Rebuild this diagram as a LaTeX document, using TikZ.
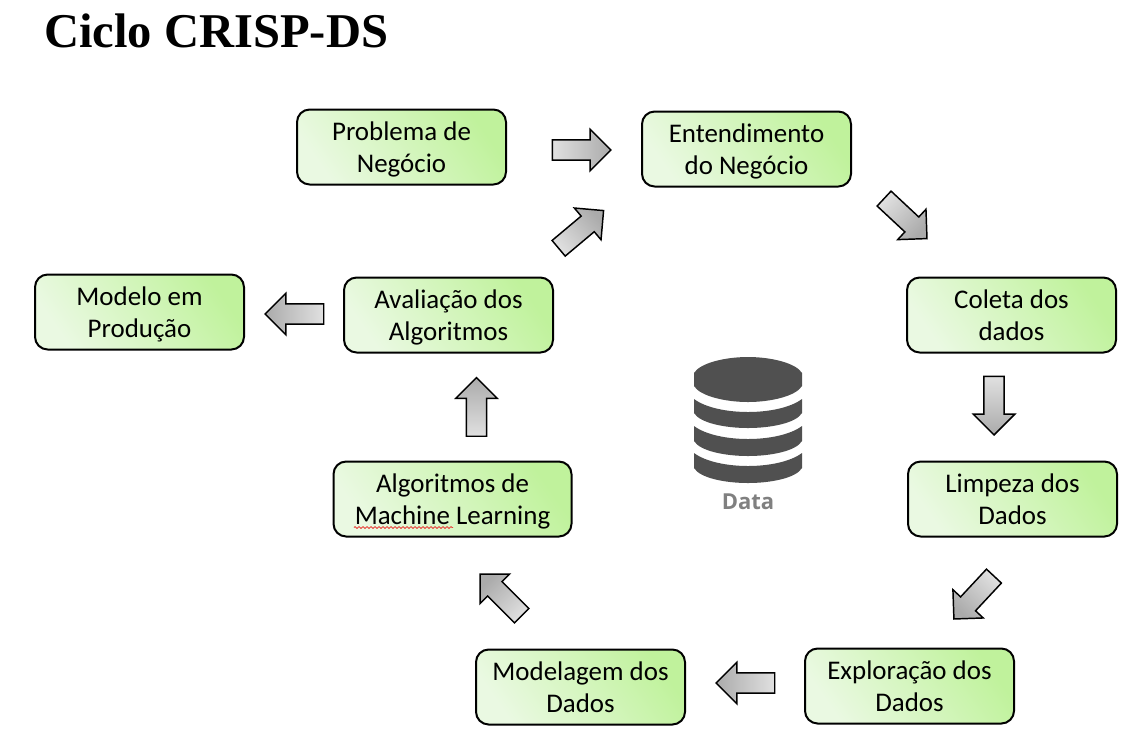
\documentclass[tikz,border=0pt]{standalone}
\usepackage{fontspec}
\setmainfont{Carlito}
\newfontfamily\titlefont{Liberation Serif}
\newfontfamily\datafont{Open Sans}
\usetikzlibrary{shapes.arrows,decorations.pathmorphing}
\definecolor{boxpale}{HTML}{EAF9E2}
\definecolor{boxgreen}{HTML}{C0F29C}
\definecolor{arrowlight}{HTML}{E0E0E0}
\definecolor{arrowdark}{HTML}{ABABAB}
\definecolor{dbgray}{HTML}{505050}
\definecolor{datagray}{HTML}{808080}
\definecolor{spell}{HTML}{E8403A}
\tikzset{
  x=.75pt,y=-.75pt,
  stagebox/.style={draw=black,line width=1.5pt,rounded corners=9.5pt,inner sep=0pt,
    minimum width=#1,minimum height=56.25pt,align=center,text depth=0pt,
    shading=axis,top color=boxgreen,bottom color=boxpale,shading angle=-55,
    font=\fontsize{20.2pt}{24pt}\selectfont},
  stagebox/.default=156.75pt,
  blockarrow/.style={single arrow,draw=black,line width=1.1pt,inner xsep=0pt,inner ysep=7.1pt,outer sep=0pt,
    minimum width=30pt,minimum height=44pt,single arrow head extend=7.9pt,
    single arrow tip angle=90,single arrow head indent=0pt,
    shading=axis,top color=arrowlight,bottom color=arrowdark,rotate=#1,shading angle=#1+90},
}
\begin{document}
\begin{tikzpicture}
\path[use as bounding box,fill=white] (0,0) rectangle (1137,744);
\node[anchor=base west,inner sep=0pt,font=\titlefont\bfseries\fontsize{36.4pt}{40pt}\selectfont] (title) at (44,47) {Ciclo CRISP-DS};

\node[stagebox] (problema) at (401.5,147) {Problema de\\Negócio};
\node[stagebox] (entend) at (746.5,149) {Entendimento\\do Negócio};
\node[stagebox] (coleta) at (1011.5,315) {Coleta dos\\dados};
\node[stagebox] (limpeza) at (1012.5,499) {Limpeza dos\\Dados};
\node[stagebox] (explor) at (909.5,686) {Exploração dos\\Dados};
\node[stagebox] (modelagem) at (580.5,687) {Modelagem dos\\Dados};
\node[stagebox=178.5pt] (algml) at (452.5,499) {Algoritmos de\\Machine Learning};
\node[stagebox] (avalia) at (448.5,315) {Avaliação dos\\Algoritmos};
\node[stagebox] (producao) at (139.5,312) {Modelo em\\Produção};

\coordinate (wavea) at (354,527.5);
\coordinate (waveb) at (453,527.5);
\draw[spell,line width=.6pt,decorate,decoration={zigzag,amplitude=.7pt,segment length=3pt}] (wavea) -- (waveb);

\node[blockarrow=0] (a1) at (576.5,150) {};
\node[blockarrow=40] (a2) at (577.2,232.7) {};
\node[blockarrow=-43] (a3) at (901.8,215.1) {};
\node[blockarrow=-90] (a4) at (994,400.5) {};
\node[blockarrow=-133] (a5) at (977.4,593.8) {};
\node[blockarrow=180] (a6) at (750.5,683) {};
\node[blockarrow=135] (a7) at (504.5,598.5) {};
\node[blockarrow=90] (a8) at (476.5,412) {};
\node[blockarrow=180] (a9) at (299.5,314) {};

% database icon
\fill[dbgray] (694,373) .. controls (700,363) and (725,357) .. (748,357)
  .. controls (771,357) and (796,363) .. (802,373) -- (802,386)
  .. controls (796,396) and (771,402) .. (748,402)
  .. controls (725,402) and (700,396) .. (694,386) -- cycle;
\fill[dbgray] (694,399) .. controls (706,408) and (728,412) .. (748,412)
  .. controls (768,412) and (790,408) .. (802,399) -- (802,413)
  .. controls (796,423) and (771,428) .. (748,428)
  .. controls (725,428) and (700,423) .. (694,413) -- cycle;
\fill[dbgray] (694,426) .. controls (706,435) and (728,439) .. (748,439)
  .. controls (768,439) and (790,435) .. (802,426) -- (802,441)
  .. controls (796,451) and (771,456) .. (748,456)
  .. controls (725,456) and (700,451) .. (694,441) -- cycle;
\fill[dbgray] (694,453) .. controls (706,462) and (728,466) .. (748,466)
  .. controls (768,466) and (790,462) .. (802,453) -- (802,468)
  .. controls (796,478) and (771,483) .. (748,483)
  .. controls (725,483) and (700,478) .. (694,468) -- cycle;
\node[anchor=base,inner sep=0pt,text=datagray,font=\datafont\bfseries\fontsize{16.5pt}{20pt}\selectfont] (data) at (748,509) {Data};
\end{tikzpicture}
\end{document}
